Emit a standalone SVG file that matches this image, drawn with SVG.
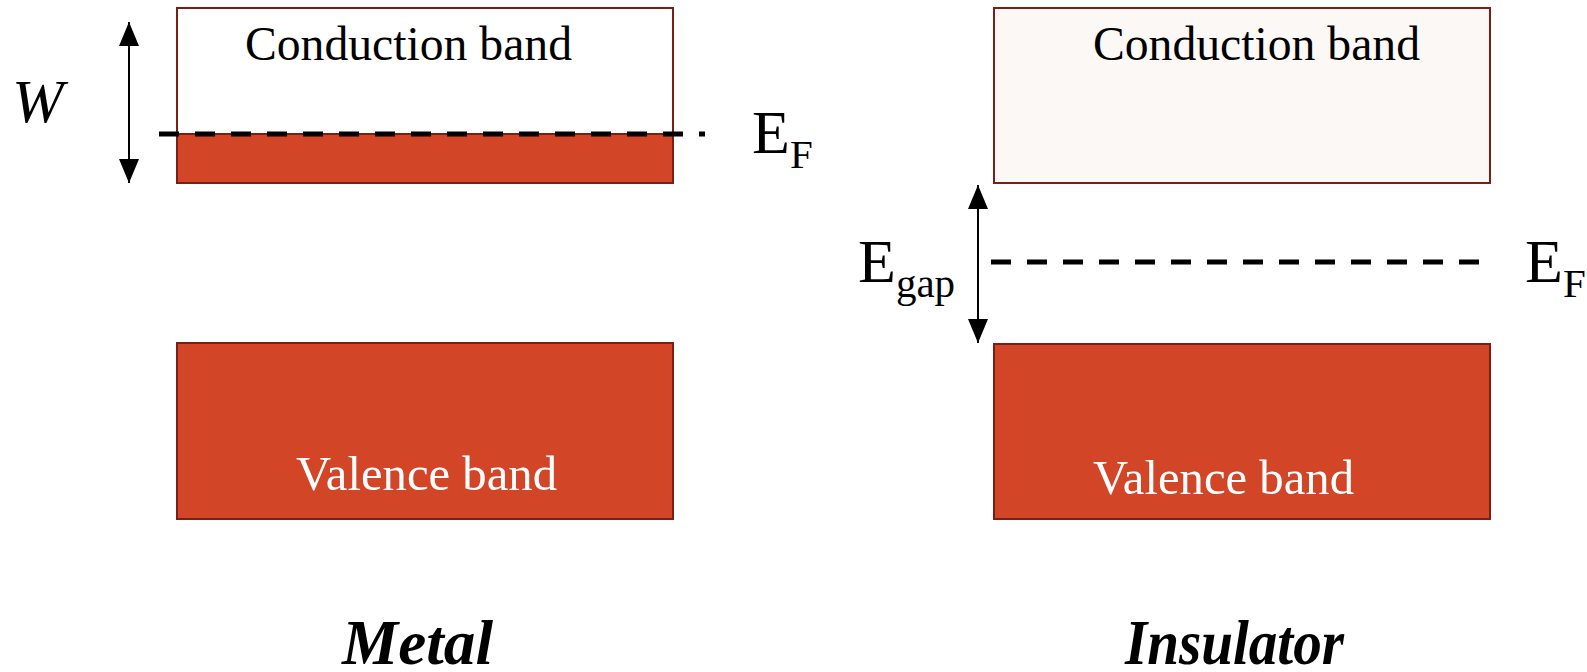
<svg xmlns="http://www.w3.org/2000/svg" width="1587" height="672" viewBox="0 0 1587 672">
<style>
.band{stroke:#7b1e14;stroke-width:2}
.filled{fill:#d34527}
.lbl{font-size:48px}
.e{font-size:62px;fill:#000}
.sub{font-size:41px}
.dash{stroke:#000;stroke-width:5;stroke-dasharray:20 16;fill:none}
.arr{stroke:#000;stroke-width:2;fill:none}
.title{font-size:64px;font-weight:bold;font-style:italic}
</style>
<defs>
<marker id="ah" viewBox="0 0 24 20" refX="24" refY="10" markerWidth="24" markerHeight="20" markerUnits="userSpaceOnUse" orient="auto-start-reverse">
<path d="M0,0 L24,10 L0,20 Z" fill="#000"/>
</marker>
</defs>
<rect width="1587" height="672" fill="#fff"/>
<g font-family="'Liberation Serif', Tinos, 'Noto Serif', 'DejaVu Serif', serif">
<g id="metal-conduction">
<rect x="177" y="8" width="496" height="175" fill="#fff" class="band"/>
<rect x="177" y="134" width="496" height="49" class="filled band"/>
<text class="lbl" x="245" y="60" fill="#000" textLength="327" lengthAdjust="spacingAndGlyphs">Conduction band</text>
</g>
<g id="metal-valence">
<rect x="177" y="343" width="496" height="176" class="filled band"/>
<text class="lbl" x="296" y="490" fill="#fff" textLength="261" lengthAdjust="spacingAndGlyphs">Valence band</text>
</g>
<g id="insulator-conduction">
<rect x="994" y="8" width="496" height="175" fill="#fcf8f6" class="band"/>
<text class="lbl" x="1093" y="60" fill="#000" textLength="327" lengthAdjust="spacingAndGlyphs">Conduction band</text>
</g>
<g id="insulator-valence">
<rect x="994" y="344" width="496" height="175" class="filled band"/>
<text class="lbl" x="1093" y="494" fill="#fff" textLength="261" lengthAdjust="spacingAndGlyphs">Valence band</text>
</g>
<g id="connectors">
<line class="dash" x1="159" y1="134" x2="705" y2="134"/>
<line class="dash" x1="991" y1="262" x2="1480" y2="262"/>
<line class="arr" x1="129" y1="22" x2="129" y2="183" marker-start="url(#ah)" marker-end="url(#ah)"/>
<line class="arr" x1="978" y1="185" x2="978" y2="343" marker-start="url(#ah)" marker-end="url(#ah)"/>
</g>
<g id="labels">
<text x="12" y="122" font-size="62" font-style="italic">W</text>
<text class="e" x="752" y="153">E<tspan class="sub" dy="15">F</tspan></text>
<text class="e" x="858" y="282">E<tspan class="sub" dy="15">gap</tspan></text>
<text class="e" x="1525" y="282">E<tspan class="sub" dy="15">F</tspan></text>
<text class="title" x="342" y="664" textLength="151" lengthAdjust="spacingAndGlyphs">Metal</text>
<text class="title" x="1125" y="664" textLength="219" lengthAdjust="spacingAndGlyphs">Insulator</text>
</g>
</g>
</svg>
